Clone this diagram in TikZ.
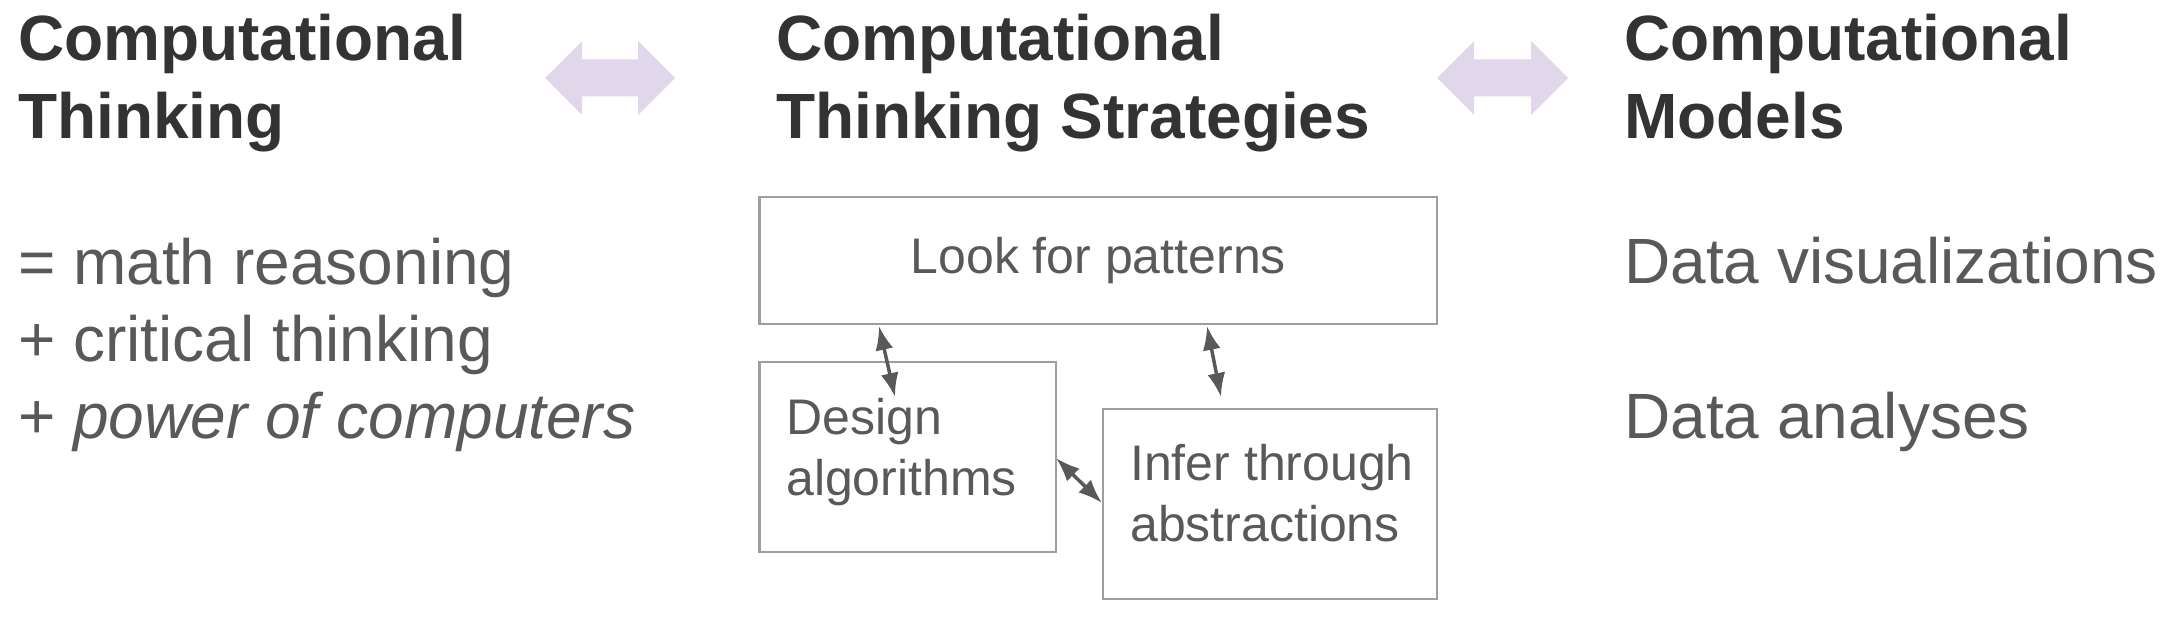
\documentclass[tikz,border=0pt]{standalone}
\usepackage{fontspec}
\setmainfont{Liberation Sans}
\usetikzlibrary{arrows.meta}
\definecolor{headc}{HTML}{333333}
\definecolor{bodyc}{HTML}{595959}
\definecolor{boxc}{HTML}{9E9E9E}
\definecolor{purp}{HTML}{E1D7EA}
\begin{document}
\begin{tikzpicture}[x=1pt,y=-1pt,
  head/.style={anchor=base west, inner sep=0, align=left, text=headc, font={\fontsize{64}{78}\selectfont\bfseries}},
  body/.style={anchor=base west, inner sep=0, align=left, text=bodyc, font={\fontsize{64}{77}\selectfont}},
  boxtext/.style={anchor=base west, inner sep=0, align=left, text=bodyc, font={\fontsize{50}{61}\selectfont}},
  box/.style={draw=boxc, line width=2.2pt, inner sep=0},
  conn/.style={draw=bodyc, line width=3.5pt, {Latex[length=24pt,width=18pt]}-{Latex[length=24pt,width=18pt]}},
  bigarrow/.style={fill=purp, draw=none}]
\useasboundingbox (0,0) rectangle (2173,617);

% headings (anchor = baseline of last line)
\node[head] (h1) at (18,139) {Computational\\Thinking};
\node[head] (h2) at (776,139) {Computational\\Thinking Strategies};
\node[head] (h3) at (1624,139) {Computational\\Models};

% big double arrows
\fill[bigarrow] (545,78) -- (582,41) -- (582,59.5) -- (638,59.5) -- (638,41) -- (675,78)
  -- (638,115) -- (638,96.5) -- (582,96.5) -- (582,115) -- cycle;
\fill[bigarrow] (1437,78) -- (1474,41) -- (1474,59.5) -- (1531,59.5) -- (1531,41) -- (1568,78)
  -- (1531,115) -- (1531,96.5) -- (1474,96.5) -- (1474,115) -- cycle;

% left body
\node[body] (ct) at (18,438) {= math reasoning\\+ critical thinking\\+ \textit{power of computers}};

% right body
\node[body] (dv) at (1624,284) {Data visualizations};
\node[body] (da) at (1624,438) {Data analyses};

% boxes
\node[box, minimum width=677.5, minimum height=127, font={\fontsize{50}{61}\selectfont}, text=bodyc] (look) at (1098.25,260.5) {Look for patterns};
\node[box, minimum width=296.5, minimum height=190] (design) at (907.75,457) {};
\node[box, minimum width=334, minimum height=190] (infer) at (1270,504) {};
\node[boxtext] (dt) at (786,495) {Design\\algorithms};
\node[boxtext] (it) at (1130,541) {Infer through\\abstractions};

% connectors
\coordinate (a1s) at (879,326);
\coordinate (a1e) at (895,397);
\coordinate (a2s) at (1207,326);
\coordinate (a2e) at (1221,397);
\coordinate (a3s) at (1056,458);
\coordinate (a3e) at (1102,503);
\draw[conn] (a1s) -- (a1e);
\draw[conn] (a2s) -- (a2e);
\draw[conn] (a3s) -- (a3e);
\end{tikzpicture}
\end{document}
